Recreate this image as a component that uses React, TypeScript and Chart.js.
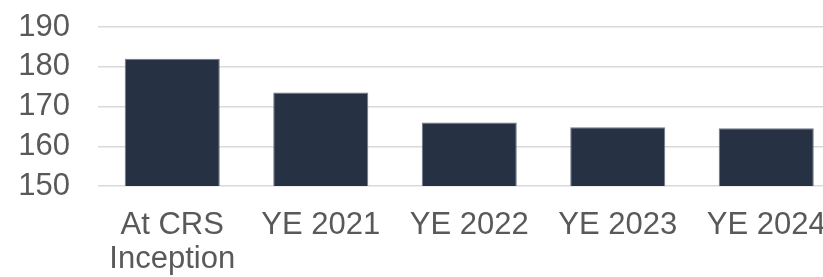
import React, { useEffect, useRef } from "react";
import { Chart, registerables } from "chart.js";

Chart.register(...registerables);

const categories: (string | string[])[] = [["At CRS", "Inception"], "YE 2021", "YE 2022", "YE 2023", "YE 2024"];
const values: number[] = [182, 173.5, 166, 164.8, 164.5];
const yTicks: number[] = [150, 160, 170, 180, 190];

const FONT = "'Liberation Sans', Arial, Helvetica, sans-serif";

export default function App() {
  const ref = useRef<HTMLCanvasElement | null>(null);
  useEffect(() => {
    if (!ref.current) return;
    const chart = new Chart(ref.current, {
      type: "bar",
      data: {
        labels: categories,
        datasets: [
          {
            data: values,
            backgroundColor: "#263143",
            borderColor: "#6f7888",
            borderWidth: 1,
            borderSkipped: "bottom",
            categoryPercentage: 1,
            barPercentage: 0.64,
          },
        ],
      },
      options: {
        responsive: false,
        animation: false,
        layout: { padding: { left: 18, right: 9.5, top: 27, bottom: 2 } },
        plugins: { legend: { display: false }, tooltip: { enabled: false } },
        scales: {
          x: {
            grid: { display: false, drawTicks: false },
            border: { display: false },
            afterFit: (axis: any) => {
              axis.paddingLeft = 0;
              axis.paddingRight = 0;
              axis.height = 89;
            },
            ticks: {
              color: "#595959",
              padding: 23,
              maxRotation: 0,
              autoSkip: false,
              font: { family: FONT, size: 31, lineHeight: 1.08 },
            },
          },
          y: {
            min: yTicks[0],
            max: yTicks[yTicks.length - 1],
            afterBuildTicks: (axis: any) => {
              axis.ticks = yTicks.map((v) => ({ value: v }));
            },
            afterFit: (axis: any) => {
              axis.width = 80;
              axis.paddingTop = 0;
              axis.paddingBottom = 0;
            },
            grid: { color: "#d9d9d9", lineWidth: 1.5, drawTicks: false },
            border: { display: false },
            ticks: {
              color: "#595959",
              padding: 28,
              autoSkip: false,
              font: { family: FONT, size: 31, lineHeight: 1.08 },
            },
          },
        },
      },
    });
    return () => chart.destroy();
  }, []);
  return (
    <div style={{ position: "fixed", left: 0, top: 0, width: 823, height: 277, overflow: "hidden", background: "#fff" }}>
      <canvas ref={ref} width={850} height={277} style={{ display: "block" }} />
    </div>
  );
}
